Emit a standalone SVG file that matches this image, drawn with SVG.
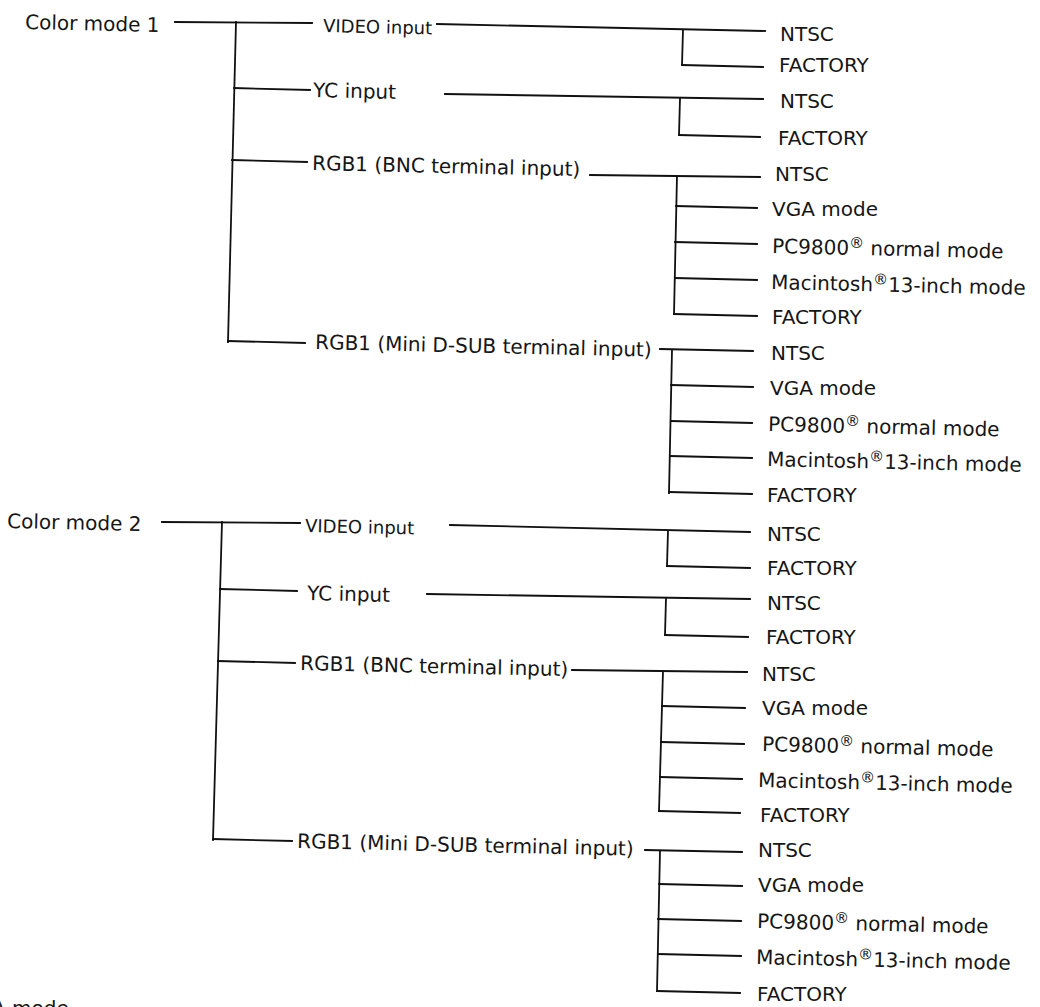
<svg xmlns="http://www.w3.org/2000/svg" width="1040" height="1007" viewBox="0 0 1040 1007">
<style>
  text { font-family: "DejaVu Sans", "Liberation Sans", sans-serif; font-size: 20px; fill: #161616; }
  .sup { font-size: 15px; }
  .vid { font-size: 18px; }
  line { stroke: #111; stroke-width: 1.8; stroke-linecap: square; fill: none; }
</style>
<rect width="1040" height="1007" fill="#ffffff"/>

<g id="connectors">
  <!-- Color mode 1 trunk -->
  <line x1="175" y1="22" x2="312" y2="23"/>
  <line x1="236" y1="22" x2="228" y2="342"/>
  <line x1="234" y1="88" x2="310" y2="90"/>
  <line x1="232" y1="160" x2="307" y2="162"/>
  <line x1="228" y1="341" x2="305" y2="343"/>
  <!-- mode 1 VIDEO -->
  <line x1="437" y1="24" x2="765" y2="31"/>
  <line x1="683" y1="30" x2="682" y2="65"/>
  <line x1="682" y1="65" x2="763" y2="67"/>
  <!-- mode 1 YC -->
  <line x1="445" y1="94" x2="763" y2="99"/>
  <line x1="680" y1="98" x2="679" y2="135"/>
  <line x1="679" y1="135" x2="760" y2="137"/>
  <!-- mode 1 BNC -->
  <line x1="590" y1="175" x2="760" y2="177"/>
  <line x1="677" y1="176" x2="674" y2="314"/>
  <line x1="676" y1="206" x2="757" y2="208"/>
  <line x1="675" y1="242" x2="757" y2="244"/>
  <line x1="675" y1="278" x2="757" y2="280"/>
  <line x1="674" y1="314" x2="757" y2="316"/>
  <!-- mode 1 Mini D-SUB -->
  <line x1="660" y1="349" x2="753" y2="351"/>
  <line x1="672" y1="350" x2="669" y2="493"/>
  <line x1="671" y1="385" x2="753" y2="387"/>
  <line x1="671" y1="421" x2="752" y2="423"/>
  <line x1="670" y1="456" x2="752" y2="458"/>
  <line x1="669" y1="492" x2="752" y2="494"/>

  <!-- Color mode 2 trunk -->
  <line x1="162" y1="522" x2="300" y2="523"/>
  <line x1="222" y1="522" x2="213" y2="840"/>
  <line x1="220" y1="589" x2="297" y2="591"/>
  <line x1="218" y1="661" x2="295" y2="663"/>
  <line x1="213" y1="839" x2="292" y2="841"/>
  <!-- mode 2 VIDEO -->
  <line x1="450" y1="525" x2="750" y2="532"/>
  <line x1="668" y1="531" x2="667" y2="566"/>
  <line x1="667" y1="566" x2="750" y2="568"/>
  <!-- mode 2 YC -->
  <line x1="427" y1="594" x2="750" y2="599"/>
  <line x1="666" y1="598" x2="665" y2="635"/>
  <line x1="665" y1="635" x2="748" y2="637"/>
  <!-- mode 2 BNC -->
  <line x1="572" y1="670" x2="747" y2="672"/>
  <line x1="663" y1="671" x2="659" y2="811"/>
  <line x1="662" y1="706" x2="745" y2="708"/>
  <line x1="661" y1="742" x2="744" y2="744"/>
  <line x1="660" y1="777" x2="742" y2="779"/>
  <line x1="659" y1="811" x2="740" y2="813"/>
  <!-- mode 2 Mini D-SUB -->
  <line x1="645" y1="850" x2="742" y2="852"/>
  <line x1="660" y1="851" x2="657" y2="991"/>
  <line x1="659" y1="884" x2="742" y2="886"/>
  <line x1="658" y1="919" x2="741" y2="921"/>
  <line x1="658" y1="954" x2="741" y2="956"/>
  <line x1="657" y1="991" x2="740" y2="993"/>
</g>

<g id="mode1">
  <g id="n-cm1"><text x="25" y="29" transform="rotate(1.3 25 29)">Color mode 1</text></g>
  <g id="n-m1-video"><text class="vid" x="323" y="32" transform="rotate(1.3 323 32)">VIDEO input</text></g>
  <g id="n-m1-yc"><text x="313" y="97" transform="rotate(1.3 313 97)">YC input</text></g>
  <g id="n-m1-bnc"><text x="312" y="170" transform="rotate(1.3 312 170)">RGB1 (BNC terminal input)</text></g>
  <g id="n-m1-mini"><text x="315" y="349" transform="rotate(1.3 315 349)">RGB1 (Mini D-SUB terminal input)</text></g>

  <g id="n-m1-video-ntsc"><text x="780" y="41">NTSC</text></g>
  <g id="n-m1-video-factory"><text x="779" y="72">FACTORY</text></g>
  <g id="n-m1-yc-ntsc"><text x="780" y="108">NTSC</text></g>
  <g id="n-m1-yc-factory"><text x="778" y="145">FACTORY</text></g>

  <g id="n-m1-bnc-ntsc"><text x="775" y="181">NTSC</text></g>
  <g id="n-m1-bnc-vga"><text x="772" y="216">VGA mode</text></g>
  <g id="n-m1-bnc-pc"><text x="772" y="253" transform="rotate(1.3 772 253)">PC9800<tspan class="sup" dy="-7">®</tspan><tspan dy="7"> normal mode</tspan></text></g>
  <g id="n-m1-bnc-mac"><text x="771" y="289" transform="rotate(1.3 771 289)">Macintosh<tspan class="sup" dy="-7">®</tspan><tspan dy="7">13-inch mode</tspan></text></g>
  <g id="n-m1-bnc-factory"><text x="772" y="324">FACTORY</text></g>

  <g id="n-m1-mini-ntsc"><text x="771" y="360">NTSC</text></g>
  <g id="n-m1-mini-vga"><text x="770" y="395">VGA mode</text></g>
  <g id="n-m1-mini-pc"><text x="768" y="431" transform="rotate(1.3 768 431)">PC9800<tspan class="sup" dy="-7">®</tspan><tspan dy="7"> normal mode</tspan></text></g>
  <g id="n-m1-mini-mac"><text x="767" y="466" transform="rotate(1.3 767 466)">Macintosh<tspan class="sup" dy="-7">®</tspan><tspan dy="7">13-inch mode</tspan></text></g>
  <g id="n-m1-mini-factory"><text x="767" y="502">FACTORY</text></g>
</g>

<g id="mode2">
  <g id="n-cm2"><text x="7" y="528" transform="rotate(1.3 7 528)">Color mode 2</text></g>
  <g id="n-m2-video"><text class="vid" x="305" y="532" transform="rotate(1.3 305 532)">VIDEO input</text></g>
  <g id="n-m2-yc"><text x="307" y="600" transform="rotate(1.3 307 600)">YC input</text></g>
  <g id="n-m2-bnc"><text x="300" y="670" transform="rotate(1.3 300 670)">RGB1 (BNC terminal input)</text></g>
  <g id="n-m2-mini"><text x="297" y="848" transform="rotate(1.3 297 848)">RGB1 (Mini D-SUB terminal input)</text></g>

  <g id="n-m2-video-ntsc"><text x="767" y="541">NTSC</text></g>
  <g id="n-m2-video-factory"><text x="767" y="575">FACTORY</text></g>
  <g id="n-m2-yc-ntsc"><text x="767" y="610">NTSC</text></g>
  <g id="n-m2-yc-factory"><text x="766" y="644">FACTORY</text></g>

  <g id="n-m2-bnc-ntsc"><text x="762" y="681">NTSC</text></g>
  <g id="n-m2-bnc-vga"><text x="762" y="715">VGA mode</text></g>
  <g id="n-m2-bnc-pc"><text x="762" y="751" transform="rotate(1.3 762 751)">PC9800<tspan class="sup" dy="-7">®</tspan><tspan dy="7"> normal mode</tspan></text></g>
  <g id="n-m2-bnc-mac"><text x="758" y="787" transform="rotate(1.3 758 787)">Macintosh<tspan class="sup" dy="-7">®</tspan><tspan dy="7">13-inch mode</tspan></text></g>
  <g id="n-m2-bnc-factory"><text x="760" y="822">FACTORY</text></g>

  <g id="n-m2-mini-ntsc"><text x="758" y="857">NTSC</text></g>
  <g id="n-m2-mini-vga"><text x="758" y="892">VGA mode</text></g>
  <g id="n-m2-mini-pc"><text x="757" y="928" transform="rotate(1.3 757 928)">PC9800<tspan class="sup" dy="-7">®</tspan><tspan dy="7"> normal mode</tspan></text></g>
  <g id="n-m2-mini-mac"><text x="756" y="964" transform="rotate(1.3 756 964)">Macintosh<tspan class="sup" dy="-7">®</tspan><tspan dy="7">13-inch mode</tspan></text></g>
  <g id="n-m2-mini-factory"><text x="757" y="1001">FACTORY</text></g>
</g>

<g id="n-cut"><text x="-8" y="1015">A mode</text></g>
</svg>
